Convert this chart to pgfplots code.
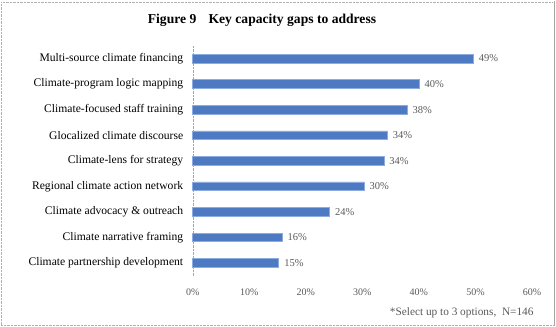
\documentclass[border=0pt]{standalone}
\usepackage{pgfplots}
\pgfplotsset{compat=1.18}
\usepackage{pgfplotstable}
\usepackage{fontspec}
\setmainfont{Liberation Serif}
\definecolor{barfill}{RGB}{78,122,196}
\definecolor{barline}{RGB}{140,172,222}
\definecolor{txtgray}{RGB}{89,89,89}
\pgfplotstableread{
pos val lab
0 49.6 49\%
1 40.0 40\%
2 37.9 38\%
3 34.4 34\%
4 33.8 34\%
5 30.3 30\%
6 24.2 24\%
7 15.8 16\%
8 15.2 15\%
}\gaps
\begin{document}
\begin{tikzpicture}
\path (0pt,0pt) rectangle (556pt,325pt);
\draw[black!30, densely dotted] (1pt,1pt) -- (1pt,324pt) -- (553pt,324pt);
\draw[black!30, densely dotted] (1pt,1pt) -- (553pt,1pt);
\draw[black!35, line width=1.5pt] (554.5pt,0pt) -- (554.5pt,325pt);
\node[font=\bfseries\fontsize{13.6}{15}\selectfont] at (262pt,305pt) {Figure 9\hspace{0.9em}Key capacity gaps to address};
\begin{axis}[
  at={(192.7pt,50pt)}, anchor=south west, scale only axis,
  width=339.3pt, height=230pt,
  xbar, bar width=8.7pt,
  xmin=0, xmax=60, ymin=-0.5, ymax=8.5, y dir=reverse,
  xtick={0,10,...,60},
  xticklabel={\pgfmathprintnumber{\tick}\%},
  ytick={0,...,8},
  yticklabels={Multi-source climate financing, Climate-program logic mapping, Climate-focused staff training, Glocalized climate discourse, Climate-lens for strategy, Regional climate action network, Climate advocacy \& outreach, Climate narrative framing, Climate partnership development},
  /pgf/number format/assume math mode=true,
  axis lines*=left, axis line style={-},
  x axis line style={draw=none},
  y axis line style={draw=black!35, densely dotted},
  major tick length=0pt,
  yticklabel style={font=\fontsize{11.6}{13}\selectfont, text=black, xshift=-6pt},
  xticklabel style={font=\fontsize{10}{11}\selectfont, text=txtgray, yshift=-10pt},
  nodes near coords, point meta=explicit symbolic,
  nodes near coords style={font=\fontsize{10.5}{11}\selectfont, text=txtgray, anchor=west, xshift=2pt},
  clip=false,
]
\addplot[fill=barfill, draw=barline, line width=0.6pt] table[x=val, y=pos, meta=lab] {\gaps};
\end{axis}
\node[anchor=east, font=\fontsize{11.3}{13}\selectfont, text=txtgray] at (537pt,13pt) {*Select up to 3 options, \ N=146};
\end{tikzpicture}
\end{document}
